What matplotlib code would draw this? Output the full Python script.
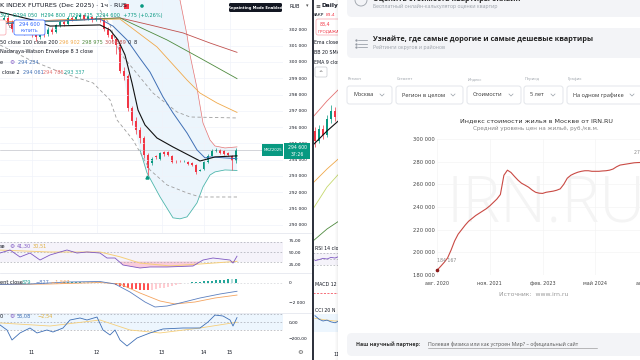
import matplotlib
matplotlib.use('Agg')
import matplotlib.pyplot as plt
from matplotlib.patches import Rectangle, FancyBboxPatch, Circle
import numpy as np

plt.rcParams['font.family'] = ['DejaVu Sans']
W, H = 640, 360

# ---------- MOEX index futures, 1h candles ----------
opens = [302300, 302700, 302400, 302000, 302500, 302200, 301800, 302100, 301700, 301500,
         301900, 301700, 302050, 301850, 302250, 302450, 302300, 302700, 302600, 302750,
         302850, 302650, 302750, 302550, 302700, 302600, 302050, 301650, 301400, 301050,
         299450, 299150, 297150, 296350, 295850, 295300, 294300, 293800, 294250, 294050,
         294480, 294470, 294230, 293880, 293920, 293900, 293880, 293800, 293680, 293310,
         293400, 293850, 294250, 294540, 294600, 294540, 294420, 294250, 293900]
closes = [302700, 302400, 302000, 302500, 302200, 301800, 302100, 301700, 301500, 301900,
          301700, 302050, 301850, 302250, 302450, 302300, 302700, 302600, 302750, 302850,
          302650, 302750, 302550, 302700, 302600, 302050, 301650, 301400, 301050, 299450,
          299150, 297150, 296350, 295850, 295300, 294300, 293500, 294050, 294150, 294420,
          294350, 294290, 293860, 293860, 293900, 293930, 293760, 293690, 293250, 293370,
          293850, 294250, 294540, 294620, 294420, 294350, 294300, 293900, 294600]
highs = [302900, 302850, 302550, 302650, 302600, 302300, 302250, 302200, 301850, 302000,
         302050, 302150, 302150, 302350, 302550, 302550, 302800, 302800, 302850, 302950,
         302900, 302850, 302800, 302800, 302750, 302650, 302150, 301750, 301500, 301100,
         299700, 299250, 297300, 296600, 296000, 295450, 294400, 294150, 294300, 294500,
         294550, 294520, 294280, 293950, 293950, 293960, 293920, 293850, 293720, 293400,
         293900, 294350, 294650, 294700, 294680, 294600, 294500, 294300, 294700]
lows = [302100, 302250, 301850, 301900, 302050, 301650, 301700, 301550, 301300, 301400,
        301550, 301600, 301700, 301750, 302150, 302200, 302250, 302500, 302550, 302650,
        302550, 302600, 302450, 302500, 302450, 301900, 301500, 301200, 300500, 299300,
        298900, 297000, 296100, 295600, 295050, 294100, 293060, 293700, 294050, 293950,
        294250, 294200, 293800, 293800, 293870, 293880, 293700, 293620, 293150, 293280,
        293350, 293800, 294200, 294450, 294350, 294300, 294250, 293380, 293800]
day_pos = [7, 23.25, 39.5, 50, 56.5]
day_labels = ['11', '12', '13', '14', '15']
price_ticks = list(range(290000, 303000, 1000))
last_price = 294600

ema_fast_x = [-1, 7.25, 11.5, 24, 26.5, 28.5, 30.25, 32, 33.5, 35.25, 38.25, 42.25, 49, 51, 52.75, 58.25]
ema_fast_v = [303060, 302570, 302200, 302270, 301960, 301350, 300430, 298710, 297050, 296130,
              295330, 294780, 293920, 294050, 294170, 294234]
ema_slow_x = [-1, 6.5, 14, 24, 27.25, 30.75, 33.75, 36.5, 39.75, 42.25, 45.75, 48.25, 50.25, 51.5, 58.25]
ema_slow_v = [302330, 302510, 302510, 302630, 302200, 301350, 300300, 299380, 297850, 296870,
              295640, 294600, 294110, 294170, 294061]
ma200_x = [-1, 14, 29, 36.5, 44.75, 51.5, 58.25]
ma200_v = [302450, 302570, 302700, 302270, 301780, 301160, 300589]
ma100_x = [-1, 14, 29, 40.75, 49, 58.25]
ma100_v = [302330, 302510, 302700, 301350, 300240, 298975]
ma50_x = [-1, 14, 29, 38.25, 45.75, 49, 53.25, 58.25]
ma50_v = [302450, 302570, 302630, 300920, 298890, 298090, 297480, 296902]

env_x = [26, 29, 31.5, 34, 35.75, 39, 42.25, 44, 45.75, 46.5, 48.25, 49.75, 51.5, 52.75, 55.25, 58.25]
env_lo = [303800, 300120, 297050, 294600, 293190, 291720, 290430, 290370, 290490, 290740,
          291350, 292330, 293060, 293250, 293370, 293337]
env_up = [313000, 311160, 309320, 308090, 307170, 305950, 304720, 303800, 301650, 300430,
          298400, 296250, 295210, 294840, 294720, 294785]
band_up_x = [24, 26.5, 29, 37.25, 43.25, 46.5, 58.25]
band_up_v = [303190, 302270, 300550, 298090, 296930, 296620, 296560]
band_lo_x = [-1, 6.5, 14, 22.25, 26.5, 28.25, 32.25, 36.5, 40.75, 45.75, 49, 58.25]
band_lo_v = [301040, 300120, 299380, 298710, 297670, 296440, 295210, 293370, 292450, 291960, 291710, 291710]

rsi_x = [-1, 1.5, 4, 6.5, 9, 11.5, 15.75, 18.25, 20.75, 24, 25.75, 27.75, 29.75, 34, 36.5,
         40.75, 47.25, 49.75, 52.25, 56.5, 57.25, 58.25]
rsi_v = [47.9, 54.2, 39.6, 47.9, 33.3, 43.8, 54.2, 47.9, 50.0, 47.9, 37.5, 37.5, 22.9, 16.7,
         18.8, 18.8, 20.8, 33.3, 37.5, 33.3, 27.0, 41.3]
rsi_ma_x = [-1, 11.5, 24, 29, 34, 41.5, 49, 58.25]
rsi_ma_v = [54, 50, 50, 40, 27, 21, 25, 30.51]

macd_x = [-1, 6.5, 15.75, 24, 27.75, 31.5, 35.25, 37.75, 40.75, 44, 49, 54, 58.25]
macd_v = [-150, -100, 100, 150, -100, -900, -1900, -2400, -2300, -2000, -1500, -1100, -827]
signal_x = [-1, 11.5, 24, 29, 34, 39, 42.75, 47.75, 52.75, 58.25]
signal_v = [-150, -100, 50, -100, -1000, -1800, -2100, -1900, -1500, -1206]
hist = [-20, -30, -40, -30, -20, -10, -5, -10, -20, -15, -10, -5, 0, 10, 20,
        90, 110, 130, 140, 150, 140, 130, 120, 100, 80,
        50, -20, -100,
        -180, -280, -380, -470, -550, -620, -670, -700, -720,
        -690, -620, -540, -450, -360, -270, -180, -90,
        20, 50, 80, 110, 140, 170, 200, 240, 280, 310, 340, 370, 360, 379]

cci_x = [-1, 0.75, 2, 4, 6.5, 8.25, 10.75, 12.25, 14.75, 16.5, 19, 20.75, 23.25, 24.75, 26.5,
         27.75, 29, 30.75, 33.25, 36.5, 39.75, 44.75, 49, 51, 52.75, 54.75, 56.5, 57.25, 58.25]
cci_v = [-37, -100, -225, -137, -75, -137, -100, -125, -75, 25, 50, 25, 62, -100, -162,
         -100, -225, -300, -200, -137, -87, -75, -75, 0, 87, 75, 25, -50, 55]
cci_ma_x = [-1, 11.5, 24, 31.5, 39, 49, 58.25]
cci_ma_v = [-12, -50, 25, -100, -137, -75, -2.5]

# ---------- second (daily) chart, mostly hidden ----------
mid_open = [83.6, 83.1, 83.7, 83.4, 84.2, 84.6, 84.3]
mid_close = [83.1, 83.7, 83.4, 84.2, 84.6, 84.3, 85.0]
mid_high = [83.8, 83.9, 83.9, 84.4, 84.9, 84.8, 85.3]
mid_low = [82.8, 83.0, 83.2, 83.3, 84.0, 84.1, 84.2]
mid_line_x = [-0.5, 3, 7.5]
mid_black = [82.9, 83.6, 84.4]
mid_red = [84.3, 85.1, 86.0]
mid_orange = [81.0, 81.7, 82.5]
mid_yellow = [79.7, 80.8, 81.8]
mid_green = [78.1, 78.7, 79.3]
mid_rsi = [45, 48, 52, 50, 55, 53, 58, 60]
mid_cci = [80, 40, 20, 30, 10, 0, 20, 40]
mid_cci_ma = [50, 45, 35, 30, 25, 20, 20, 25]

# ---------- IRN.RU Moscow housing price index, monthly from Aug 2020 ----------
irn_values = [184167, 187500, 191000, 195000, 202000, 210000, 216000, 220000, 224000, 227500,
              230000, 232500, 234500, 236500, 238500, 241000, 244000, 247000, 251000, 268000,
              272500, 270500, 267000, 263700, 261000, 259300, 257500, 255000, 253000, 252200,
              252000, 253000, 253500, 254000, 254800, 256000, 260000, 265400, 268000, 269500,
              270700, 271500, 272000, 272000, 271500, 271500, 271500, 271800, 272000, 272500,
              273500, 275500, 277000, 277500, 278000, 278500, 279000, 279200, 279300, 279400, 279500]
irn_ticks = [0, 15, 30, 45, 60]
irn_tick_labels = ['авг. 2020', 'ноя. 2021', 'фев. 2023', 'май 2024', 'авг. 2025']
irn_yticks = list(range(180000, 300001, 20000))

fig = plt.figure(figsize=(6.4, 3.6), dpi=100)
fig.patch.set_facecolor('white')


def pane(x0, y0, x1, y1, z=0):
    a = fig.add_axes([x0 / W, 1 - y1 / H, (x1 - x0) / W, (y1 - y0) / H], zorder=z)
    for s in a.spines.values():
        s.set_visible(False)
    a.set_facecolor('none')
    return a


def fmt(v):
    return f'{v:,}'.replace(',', ' ')


GRID = '#f0f3fa'
TEAL = '#089981'
RED = '#f23645'

# main price pane
ax = pane(0, 0, 283, 233)
ax.set_xlim(-1, 69.75)
ax.set_ylim(289500, 303800)
ax.set_xticks(day_pos)
ax.tick_params(axis='x', length=0, labelbottom=False)
ax.yaxis.tick_right()
ax.set_yticks(price_ticks)
ax.set_yticklabels([fmt(v) for v in price_ticks], fontsize=3.2, color='#131722')
ax.tick_params(axis='y', length=0, pad=4)
ax.grid(color=GRID, lw=0.5)
ax.fill_between(env_x, env_lo, env_up, color='#e6f2fc', alpha=0.75, lw=0)
ax.plot(env_x[7:], env_up[7:], color='#e57373', lw=0.5)
ax.plot(env_x[3:], env_lo[3:], color='#4db6ac', lw=0.6)
ax.plot(band_up_x, band_up_v, color='#9e9e9e', lw=0.6, ls=(0, (4, 3)))
ax.plot(band_lo_x, band_lo_v, color='#9e9e9e', lw=0.6, ls=(0, (4, 3)))
ax.plot(ma200_x, ma200_v, color='#c0504d', lw=0.6)
ax.plot(ma100_x, ma100_v, color='#4e8a3e', lw=0.6)
ax.plot(ma50_x, ma50_v, color='#f0a94a', lw=0.6)
ax.axhline(last_price, color='#b2b5be', lw=0.4)
idx = np.arange(len(opens))
o = np.array(opens)
c = np.array(closes)
col = np.where(c >= o, TEAL, RED)
ax.vlines(idx, lows, highs, colors=col, lw=0.5)
ax.bar(idx, np.maximum(np.abs(c - o), 25), bottom=np.minimum(o, c), width=0.62, color=col, lw=0)
ax.plot(ema_slow_x, ema_slow_v, color='#3f6fb5', lw=0.7)
ax.plot(ema_fast_x, ema_fast_v, color='#111111', lw=0.8)
ax.plot([35.75], [292950], marker='^', color=TEAL, ms=2.2)

# RSI pane
ar = pane(0, 233, 283, 273)
ar.set_xlim(-1, 69.75)
ar.set_ylim(6.25, 89.6)
ar.axhspan(30, 70, color='#7e57c2', alpha=0.07, lw=0)
for lvl in (70, 50, 30):
    ar.axhline(lvl, color='#9598a1', lw=0.4, ls=(0, (3, 3)))
rv = np.array(rsi_v)
ar.fill_between(rsi_x, rv, 30, where=rv < 30, interpolate=True, color='#f48fb1', alpha=0.45, lw=0)
ar.plot(rsi_ma_x, rsi_ma_v, color='#f6cf7a', lw=0.7)
ar.plot(rsi_x, rsi_v, color='#7e57c2', lw=0.6)
ar.yaxis.tick_right()
ar.set_yticks([75, 50, 25])
ar.set_yticklabels(['75,00', '50,00', '25,00'], fontsize=3.2, color='#131722')
ar.tick_params(axis='y', length=0, pad=4)
ar.set_xticks([])

# MACD pane
am = pane(0, 273, 283, 313)
am.set_xlim(-1, 69.75)
am.set_ylim(-3000, 1000)
hv = np.array(hist)
prev = np.concatenate([[hv[0]], hv[:-1]])
hcol = np.where(hv >= 0, np.where(hv >= prev, '#26a69a', '#b2dfdb'),
                np.where(hv <= prev, '#ff5252', '#ffcdd2'))
am.bar(idx, hv, width=0.7, color=hcol, lw=0)
am.axhline(0, color='#c8cad0', lw=0.4, ls=(0, (3, 3)))
am.plot(signal_x, signal_v, color='#f4a460', lw=0.6)
am.plot(macd_x, macd_v, color='#5b7fbf', lw=0.6)
am.yaxis.tick_right()
am.set_yticks([0, -2000])
am.set_yticklabels(['0', '−2 000'], fontsize=3.2, color='#131722')
am.tick_params(axis='y', length=0, pad=4)
am.set_xticks([])

# CCI pane
ac = pane(0, 313, 283, 348)
ac.set_xlim(-1, 69.75)
ac.set_ylim(-325, 112.5)
ac.axhspan(-100, 100, color='#2196f3', alpha=0.08, lw=0)
for lvl in (100, 0, -100):
    ac.axhline(lvl, color='#9598a1', lw=0.4, ls=(0, (3, 3)))
ac.plot(cci_ma_x, cci_ma_v, color='#f6cf7a', lw=0.6)
ac.plot(cci_x, cci_v, color='#3f6fb5', lw=0.6)
ac.yaxis.tick_right()
ac.set_yticks([0, -200])
ac.set_yticklabels(['0,00', '−200,00'], fontsize=3.2, color='#131722')
ac.tick_params(axis='y', length=0, pad=4)
ac.set_xticks(day_pos)
ac.set_xticklabels(day_labels, fontsize=3.5, color='#131722')
ac.tick_params(axis='x', length=0, pad=1.5)

# daily chart strip
mx = pane(313, 78, 345, 243)
mx.set_xlim(-0.5, 7.5)
mx.set_ylim(78.0, 86.25)
mx.set_xticks([])
mx.set_yticks([])
mi = np.arange(len(mid_open))
mo = np.array(mid_open)
mc = np.array(mid_close)
mcol = np.where(mc >= mo, TEAL, RED)
mx.vlines(mi, mid_low, mid_high, colors=mcol, lw=0.5)
mx.bar(mi, np.abs(mc - mo), bottom=np.minimum(mo, mc), width=0.6, color=mcol, lw=0)
mx.plot(mid_line_x, mid_red, color='#e57373', lw=0.6)
mx.plot(mid_line_x, mid_black, color='#111111', lw=0.8)
mx.plot(mid_line_x, mid_orange, color='#f0a94a', lw=0.6)
mx.plot(mid_line_x, mid_yellow, color='#c5d86d', lw=0.6)
mx.plot(mid_line_x, mid_green, color='#4e8a3e', lw=0.6)
mr = pane(313, 243, 345, 275)
mr.set_xlim(-0.5, 7.5)
mr.set_ylim(0, 100)
mr.axhspan(30, 70, color='#7e57c2', alpha=0.07, lw=0)
for lvl in (70, 50, 30):
    mr.axhline(lvl, color='#9598a1', lw=0.4, ls=(0, (3, 3)))
mr.plot(np.arange(len(mid_rsi)), mid_rsi, color='#7e57c2', lw=0.6)
mr.set_xticks([])
mr.set_yticks([])
mm = pane(313, 275, 345, 305)
mm.set_xlim(-0.5, 7.5)
mm.set_ylim(-100, 100)
mm.axhline(-20, color=RED, lw=0.5, ls=(0, (3, 2)))
mm.set_xticks([])
mm.set_yticks([])
mcc = pane(313, 305, 345, 345)
mcc.set_xlim(-0.5, 7.5)
mcc.set_ylim(-250, 200)
mcc.axhspan(-100, 100, color='#2196f3', alpha=0.08, lw=0)
mcc.plot(np.arange(len(mid_cci)), mid_cci_ma, color='#f6cf7a', lw=0.6)
mcc.plot(np.arange(len(mid_cci)), mid_cci, color='#3f6fb5', lw=0.6)
mcc.set_xticks([])
mcc.set_yticks([])

# overlay with texts and the web page
ov = fig.add_axes([0, 0, 1, 1], zorder=1)
ov.set_xlim(0, W)
ov.set_ylim(H, 0)
ov.axis('off')


def t(x, y, s, size=3.6, color='#131722', **kw):
    kw.setdefault('va', 'center')
    ov.text(x, y, s, fontsize=size, color=color, **kw)


t(0, 6, 'K INDEX FUTURES (Dec 2025) · 1ч · RUS', 4.6)
ov.add_patch(Rectangle((124, 3.5), 5, 5, fc=RED, lw=0))
ov.add_patch(Circle((142, 6), 1.8, fc=TEAL, lw=0))
t(0, 15, '305  О294 050  Н294 800  Л293 425  З294 600  +775 (+0,26%)', 3.6, TEAL)
ov.add_patch(FancyBboxPatch((-8, 20), 14, 15, boxstyle='round,pad=0,rounding_size=2',
                            fc='white', ec='#f7a1a9', lw=0.5))
t(9, 27.5, '0', 3.2)
ov.add_patch(FancyBboxPatch((14, 20), 31, 15, boxstyle='round,pad=0,rounding_size=2',
                            fc='white', ec='#2962ff', lw=0.5))
t(29.5, 24.5, '294 600', 3.6, '#2962ff', ha='center')
t(29.5, 31, 'КУПИТЬ', 3.2, '#2962ff', ha='center')
t(0, 42, '50 close 100 close 200', 3.6)
t(59, 42, '296 902', 3.6, '#f0a94a')
t(82, 42, '298 975', 3.6, '#4e8a3e')
t(105, 42, '300 589', 3.6, '#c0504d')
t(128, 42, '0', 3.6)
t(134, 42, '8', 3.6)
t(0, 52, 'Nadaraya-Watson Envelope 8 3 close', 3.6)
t(0, 62, 'e', 3.6)
t(9, 62, '⚙', 4.2, '#7e57c2')
t(18, 62, '294 234', 3.6, '#3f6fb5')
t(2, 72, 'close 2', 3.6)
t(23, 72, '294 061', 3.6, '#3f6fb5')
t(43, 72, '294 785', 3.6, '#e57373')
t(64, 72, '293 337', 3.6, '#26a69a')
t(0, 246, 'se', 3.6)
t(9, 246, '⚙', 4.2, '#7e57c2')
t(17, 246, '41,30', 3.6, '#7e57c2')
t(33, 246, '30,51', 3.6, '#e0b040')
t(0, 282, 'ent close', 3.6)
t(22, 282, '379', 3.6, '#26a69a')
t(36, 282, '−827', 3.6, '#5b7fbf')
t(51, 282, '−1 567', 3.6, '#f4a460')
t(0, 316, '0', 3.6)
t(9, 316, '⚙', 4.2, '#7e57c2')
t(17, 316, '55,08', 3.6, '#3f6fb5')
t(37, 316, '−2,54', 3.6, '#e0b040')
ov.add_patch(FancyBboxPatch((229, 3), 53, 9, boxstyle='round,pad=0,rounding_size=1.5',
                            fc='#131722', lw=0))
t(255.5, 7.5, 'Repainting Mode Enabled', 2.7, 'white', ha='center', fontweight='bold')
t(289, 6, 'RUB', 3.6)
t(306, 6, '▾', 3.6, '#555')
ov.add_patch(Rectangle((262, 144), 21, 12, fc=TEAL, lw=0))
t(272.5, 150, 'MXZ2025', 2.9, 'white', ha='center')
ov.add_patch(Rectangle((284, 143), 26, 16, fc=TEAL, lw=0))
t(297, 147.5, '294 600', 3.3, 'white', ha='center')
t(297, 154.5, '37:26', 3.3, 'white', ha='center')
t(300, 352, '⚙', 4.6, '#555', ha='center')
for yy in (233, 273, 313):
    ov.plot([0, 312], [yy, yy], color='#e0e3eb', lw=0.5)
ov.plot([312.5, 312.5], [0, H], color='#2a2e39', lw=1.4)

# daily strip header (covered by the web panel on the right)
t(315, 6, '≡', 4.2, '#333')
t(322, 6, 'Daily', 4.2, '#131722', fontweight='bold')
t(313, 15, 'ЗАКР', 3.2)
t(326, 15, '83,4', 3.2, RED)
ov.add_patch(FancyBboxPatch((316, 19), 28, 16, boxstyle='round,pad=0,rounding_size=2',
                            fc='white', ec='#f7a1a9', lw=0.5))
t(320, 24.5, '83,4', 3.4, RED)
t(318, 31, 'ПРОДАЖА', 3.0, RED)
t(314, 43, 'Ema close', 3.4)
t(314, 53, 'BB 20 SMA', 3.4)
t(314, 63, 'EMA 9 close', 3.4)
ov.add_patch(FancyBboxPatch((315, 67), 12, 10, boxstyle='round,pad=0,rounding_size=1.5',
                            fc='white', ec='#c8cad0', lw=0.5))
t(321, 72.5, '^', 3.6, '#333', ha='center')
t(315, 248, 'RSI 14 close', 3.4)
t(315, 285, 'MACD 12', 3.4)
t(315, 311, 'CCI 20 N', 3.4)
t(333, 355, '11', 3.5)

# web page panel
for k, a in enumerate([0.015, 0.03, 0.05]):
    ov.add_patch(Rectangle((335 + k, 0), 1, H, fc='black', alpha=a, lw=0, zorder=5))
ov.add_patch(Rectangle((338, 0), W - 338, H, fc='white', lw=0, zorder=5))
CARD = '#f3f4f7'
WF = 'Open Sans'


def w(x, y, s, size=3.8, color='#222', **kw):
    kw.setdefault('va', 'center')
    ov.text(x, y, s, fontsize=size, color=color, family=WF, zorder=7, **kw)


ov.add_patch(FancyBboxPatch((347, -12), 300, 29, boxstyle='round,pad=0,rounding_size=5',
                            fc=CARD, lw=0, zorder=6))
ov.add_patch(Circle((361, 0), 6, fc='none', ec='#9aa0a8', lw=0.6, zorder=7))
w(373, -1, 'Оценить стоимость квартиры онлайн', 5.2, '#222', fontweight='bold')
w(373, 6, 'Бесплатный онлайн-калькулятор оценки квартир', 3.7, '#9aa0a8')
ov.add_patch(FancyBboxPatch((347, 28), 300, 30, boxstyle='round,pad=0,rounding_size=5',
                            fc=CARD, lw=0, zorder=6))
for yy in (40, 43.5, 47):
    ov.plot([358, 367], [yy, yy], color='#8a909a', lw=0.5, zorder=7)
    ov.plot([355.5], [yy], marker='o', ms=0.6, color='#8a909a', zorder=7)
w(373, 39.5, 'Узнайте, где самые дорогие и самые дешевые квартиры', 5.2, '#222', fontweight='bold')
w(373, 48, 'Рейтинги округов и районов', 3.7, '#9aa0a8')

filters = [(347, 392, 'Регион', 'Москва'),
           (396, 463, 'Сегмент', 'Регион в целом'),
           (467, 521, 'Индекс', 'Стоимости'),
           (524, 563, 'Период', '5 лет'),
           (567, 660, 'График', 'На одном графике')]
for x0, x1, lab, val in filters:
    w(x0 + 1, 79, lab, 2.9, '#9aa0a8')
    ov.add_patch(FancyBboxPatch((x0, 86), x1 - x0, 18, boxstyle='round,pad=0,rounding_size=2.5',
                                fc='white', ec='#dfe2e8', lw=0.6, zorder=6))
    w(x0 + 6, 95, val, 4.1, '#333')
    cx = min(x1 - 10, 632)
    ov.plot([cx - 2, cx, cx + 2], [94, 96, 94], color='#9aa0a8', lw=0.5, zorder=7)

ov.text(536, 121, 'Индекс стоимости жилья в Москве от IRN.RU', fontsize=4.6, color='#333',
        ha='center', va='center', zorder=7)
ov.text(536, 128.5, 'Средний уровень цен на жильё, руб./кв.м.', fontsize=4.1, color='#888',
        ha='center', va='center', zorder=7)
ov.text(534, 294, 'Источник:  www.irn.ru', fontsize=4.4, color='#999',
        ha='center', va='center', zorder=7)
ov.add_patch(FancyBboxPatch((347, 333), 300, 23, boxstyle='round,pad=0,rounding_size=5',
                            fc=CARD, lw=0, zorder=6))
w(356, 344, 'Наш научный партнер:', 3.8, '#333', fontweight='bold')
w(428, 344, 'Полевая физика или как устроен Мир? – официальный сайт', 3.7, '#555')
ov.plot([428, 597], [347.5, 347.5], color='#888', lw=0.4, zorder=7)

# IRN.RU index chart
ai = pane(437, 139, 700, 275, z=2)
ai.set_xlim(0, 74.7)
ai.set_ylim(180000, 300000)
ai.text(0.038, 0.515, 'IRN.RU', transform=ai.transAxes, fontsize=46, color='#f4f4f4',
        family='Open Sans', fontweight='light', ha='left', va='center', zorder=0)
ai.set_xticks(irn_ticks)
ai.set_xticklabels(irn_tick_labels, fontsize=3.5, color='#444')
ai.set_yticks(irn_yticks)
ai.set_yticklabels([fmt(v) for v in irn_yticks], fontsize=3.8, color='#444')
ai.tick_params(length=0)
ai.tick_params(axis='x', pad=4.5)
ai.tick_params(axis='y', pad=1.5)
ai.grid(color='#f4f4f4', lw=0.5)
mon = np.arange(len(irn_values))
ai.plot(mon, irn_values, color='#c94a44', lw=0.8, clip_on=False, zorder=3)
ai.plot(mon[0], irn_values[0], marker='o', ms=1.6, color='#8b1a1a', clip_on=False, zorder=4)
ai.annotate(fmt(irn_values[0]), (mon[0], irn_values[0]), xytext=(0, 6), textcoords='offset points',
            fontsize=3.3, color='#888', ha='left', annotation_clip=False)
ai.annotate(fmt(irn_values[56]), (mon[56], irn_values[56]), xytext=(0, 6), textcoords='offset points',
            fontsize=3.3, color='#888', ha='left', annotation_clip=False)

fig.savefig('out.png', dpi=100)
